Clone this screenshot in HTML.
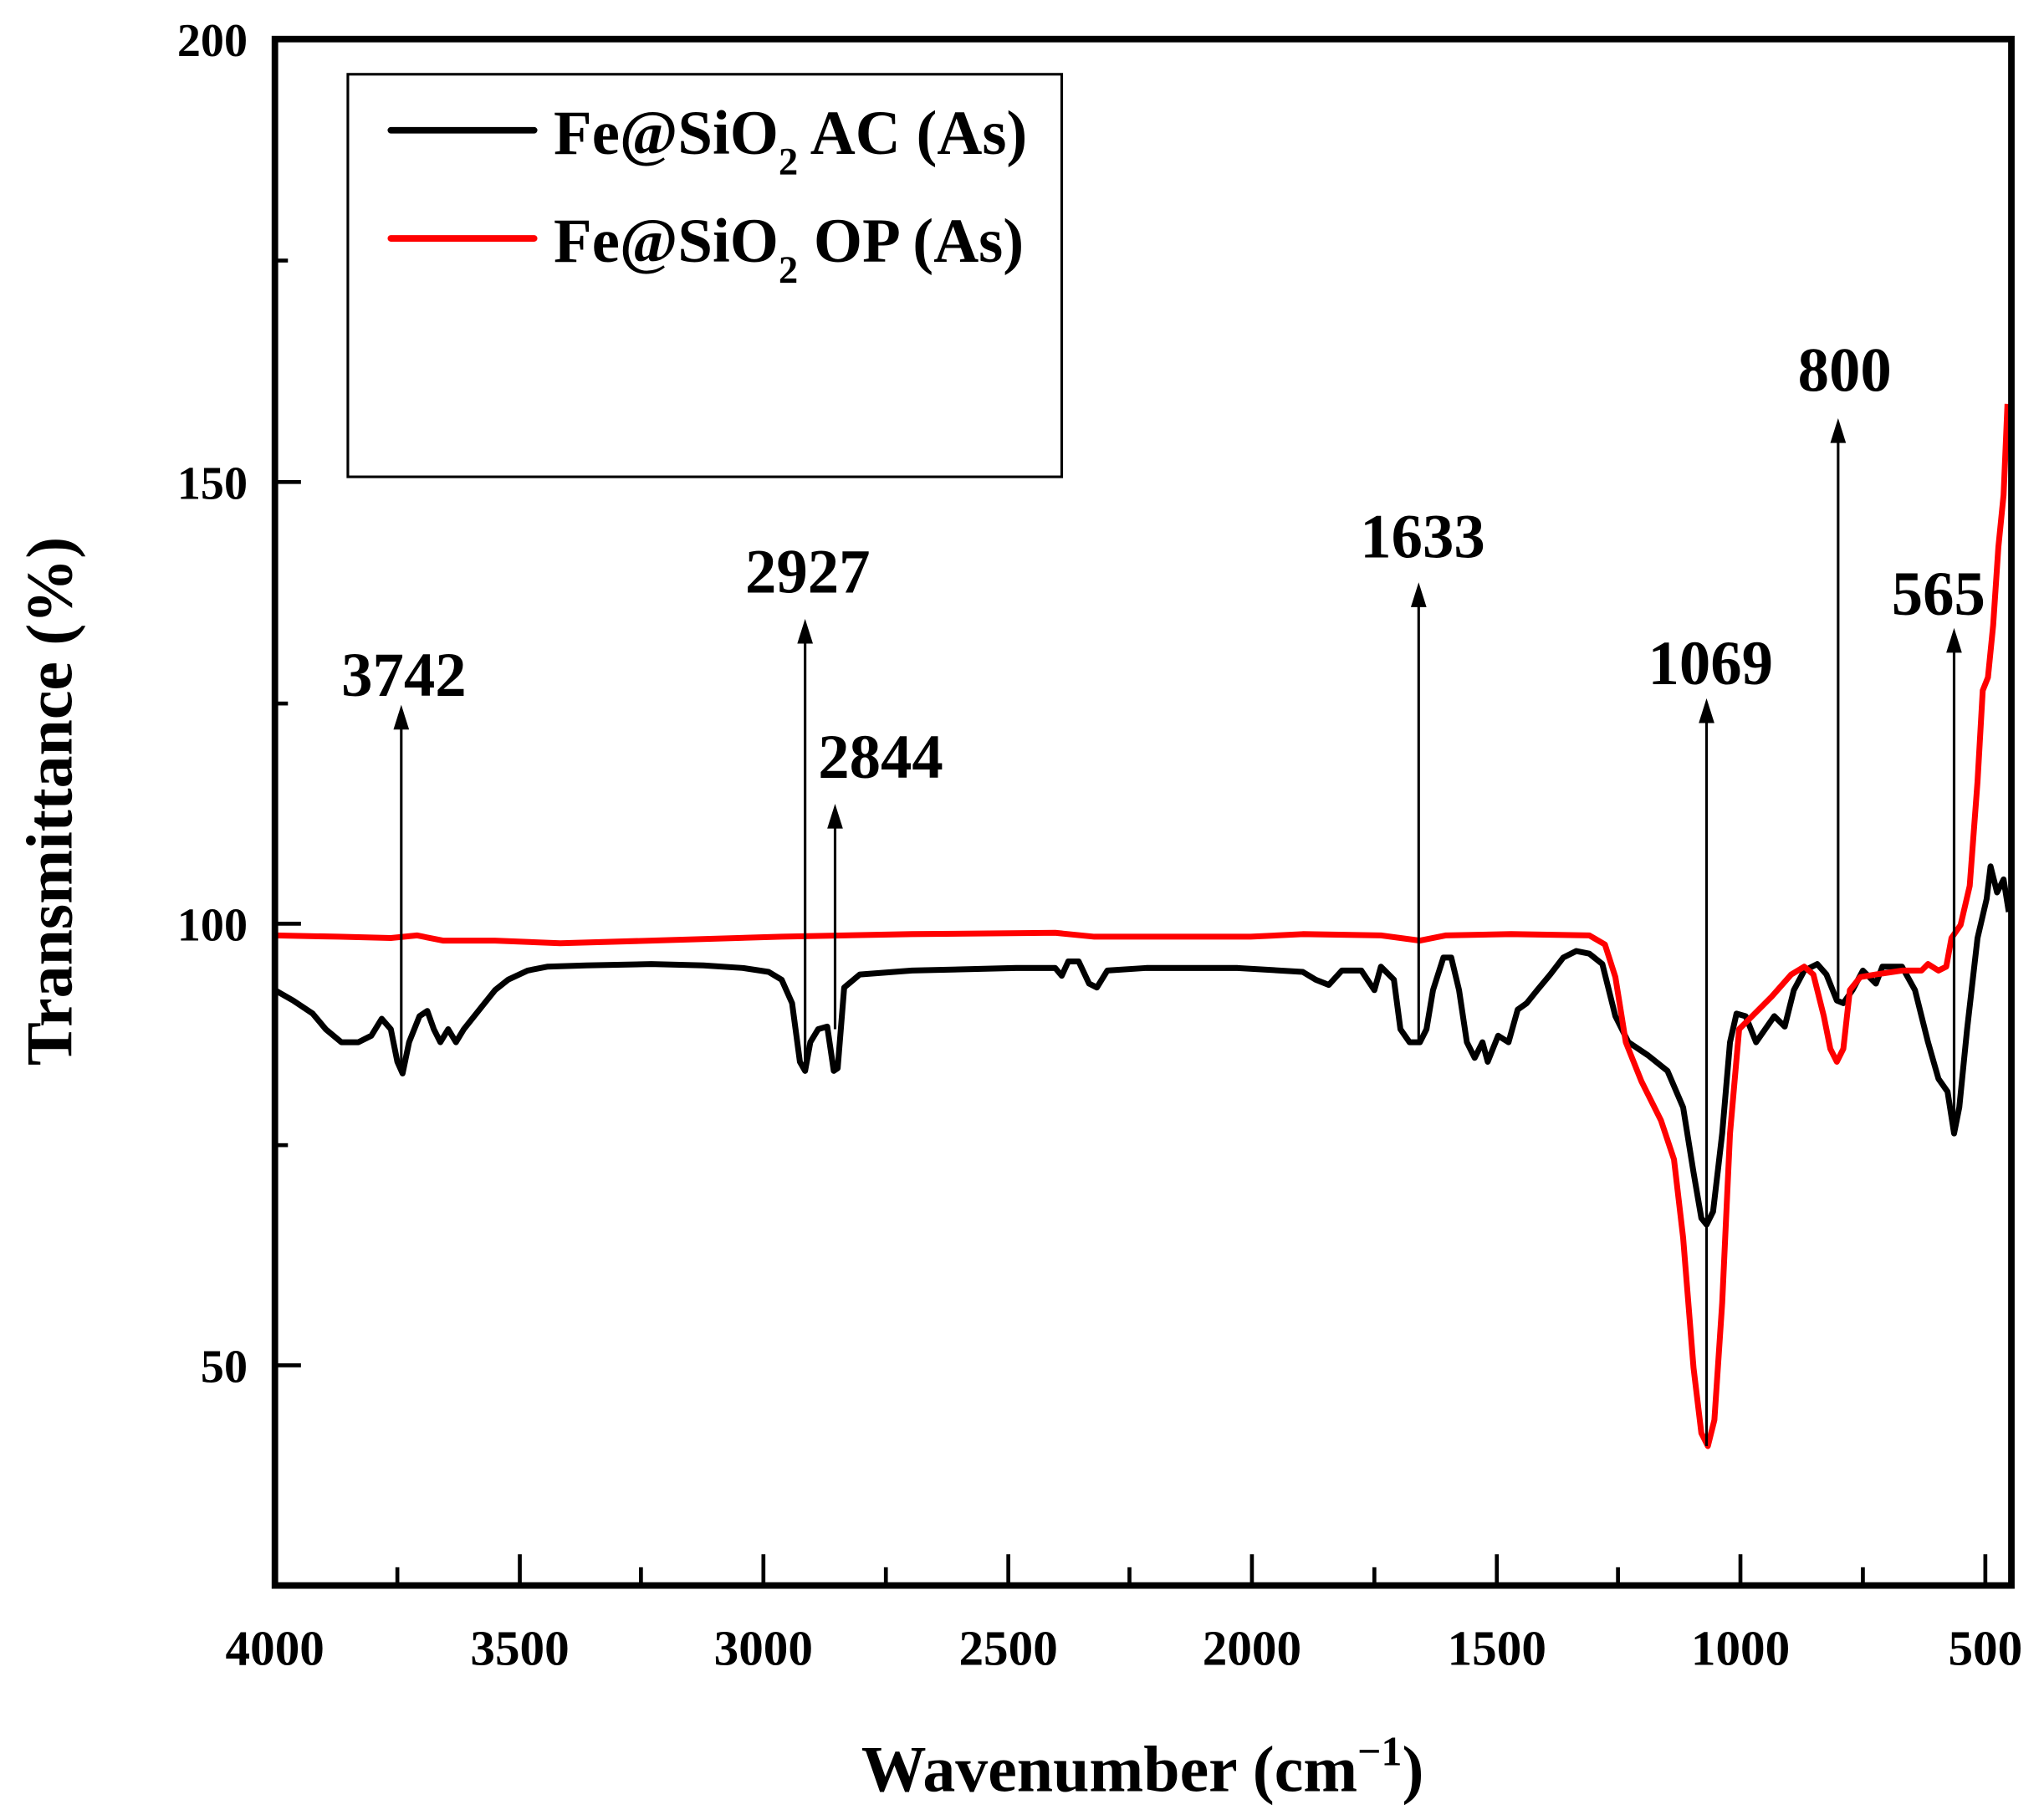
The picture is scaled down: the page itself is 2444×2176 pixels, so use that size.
<!DOCTYPE html>
<html><head><meta charset="utf-8"><style>html,body{margin:0;padding:0;background:#fff}svg{display:block}</style></head>
<body>
<svg width="2444" height="2176" viewBox="0 0 1569 1397" xmlns="http://www.w3.org/2000/svg" font-family="'Liberation Serif', serif" font-weight="bold">
<rect width="1569" height="1397" fill="#fff"/>
<polyline fill="none" stroke="#000" stroke-width="4.5" stroke-linejoin="round" points="211,760 225,768 240,778 250,790 262,800 275,800 285,795 293,782 300,790 305,815 309,824 314,800 322,780 328,776 333,790 338,800 344,790 350,800 356,790 364,780 372,770 380,760 390,752 405,745 420,742 450,741 500,740 540,741 570,743 590,746 600,752 608,770 614,815 618,822 622,800 628,790 635,788 640,822 643,820 648,758 660,748 700,745 780,743 810,743 815,749 820,738 828,738 836,755 842,758 850,745 880,743 950,743 1000,746 1010,752 1020,756 1030,745 1045,745 1055,760 1060,742 1070,752 1075,790 1082,800 1090,800 1095,790 1100,760 1108,735 1114,735 1120,760 1126,800 1132,812 1138,800 1142,815 1150,795 1158,800 1165,775 1172,770 1180,760 1190,748 1200,735 1210,730 1220,732 1230,740 1240,780 1250,800 1265,810 1280,822 1292,850 1300,900 1306,935 1310,940 1315,930 1322,870 1328,800 1333,778 1340,780 1348,800 1355,790 1362,780 1370,788 1377,760 1385,745 1395,740 1402,748 1410,768 1415,770 1422,760 1430,745 1440,755 1445,742 1460,742 1470,760 1480,800 1488,828 1495,838 1500,870 1504,850 1510,790 1518,720 1525,690 1528,665 1533,685 1538,675 1542,700"/>
<polyline fill="none" stroke="#f00" stroke-width="4.5" stroke-linejoin="round" points="211,718 260,719 300,720 320,718 340,722 380,722 430,724 500,722 600,719 700,717 810,716 840,719 900,719 960,719 1000,717 1060,718 1090,722 1110,718 1160,717 1220,718 1232,725 1240,750 1248,800 1260,830 1275,860 1285,890 1292,950 1300,1050 1306,1100 1311,1110 1316,1090 1322,1000 1328,870 1335,790 1345,780 1360,765 1375,748 1385,742 1392,748 1400,780 1405,805 1410,815 1415,805 1420,760 1428,750 1440,748 1460,745 1475,745 1480,740 1488,745 1494,742 1498,720 1505,710 1512,680 1518,600 1522,530 1526,520 1530,480 1534,420 1538,380 1541,310"/>
<rect x="211" y="30" width="1333" height="1187" fill="none" stroke="#000" stroke-width="5"/>
<g stroke="#000" stroke-width="3">
<line x1="211" y1="370" x2="231" y2="370"/><line x1="211" y1="709" x2="231" y2="709"/><line x1="211" y1="1048" x2="231" y2="1048"/>
<line x1="211" y1="200" x2="221" y2="200"/><line x1="211" y1="540" x2="221" y2="540"/><line x1="211" y1="879" x2="221" y2="879"/>
<line x1="399" y1="1217" x2="399" y2="1193"/><line x1="586" y1="1217" x2="586" y2="1193"/><line x1="774" y1="1217" x2="774" y2="1193"/><line x1="961" y1="1217" x2="961" y2="1193"/><line x1="1149" y1="1217" x2="1149" y2="1193"/><line x1="1336" y1="1217" x2="1336" y2="1193"/><line x1="1524" y1="1217" x2="1524" y2="1193"/>
<line x1="305" y1="1217" x2="305" y2="1203"/><line x1="492" y1="1217" x2="492" y2="1203"/><line x1="680" y1="1217" x2="680" y2="1203"/><line x1="867" y1="1217" x2="867" y2="1203"/><line x1="1055" y1="1217" x2="1055" y2="1203"/><line x1="1242" y1="1217" x2="1242" y2="1203"/><line x1="1430" y1="1217" x2="1430" y2="1203"/>
</g>
<g font-size="36" text-anchor="end">
<text x="190" y="43">200</text><text x="190" y="383">150</text><text x="190" y="722">100</text><text x="190" y="1061">50</text>
</g>
<g font-size="38" text-anchor="middle">
<text x="211" y="1278">4000</text><text x="399" y="1278">3500</text><text x="586" y="1278">3000</text><text x="774" y="1278">2500</text><text x="961" y="1278">2000</text><text x="1149" y="1278">1500</text><text x="1336" y="1278">1000</text><text x="1524" y="1278">500</text>
</g>
<text x="877" y="1375" font-size="50" text-anchor="middle">Wavenumber (cm<tspan dy="-20" font-size="32">−1</tspan><tspan dy="20">)</tspan></text>
<text transform="translate(55,615) rotate(-90)" font-size="50" text-anchor="middle">Transmittance (%)</text>
<rect x="267" y="57" width="548" height="309" fill="#fff" stroke="#000" stroke-width="2"/>
<line x1="300" y1="100" x2="410" y2="100" stroke="#000" stroke-width="5" stroke-linecap="round"/>
<line x1="300" y1="183" x2="410" y2="183" stroke="#f00" stroke-width="5" stroke-linecap="round"/>
<text x="425" y="118" font-size="48">Fe@SiO<tspan dy="16" font-size="30">2</tspan><tspan dy="-16"> AC (As)</tspan></text>
<text x="425" y="201" font-size="48">Fe@SiO<tspan dy="16" font-size="30">2</tspan><tspan dy="-16"> OP (As)</tspan></text>
<g stroke="#000" stroke-width="2">
<line x1="308" y1="556" x2="308" y2="823"/><line x1="618" y1="490" x2="618" y2="820"/><line x1="641" y1="632" x2="641" y2="790"/><line x1="1089" y1="462" x2="1089" y2="800"/><line x1="1310" y1="551" x2="1310" y2="1110"/><line x1="1411" y1="336" x2="1411" y2="770"/><line x1="1500" y1="497" x2="1500" y2="870"/>
</g>
<g fill="#000">
<polygon points="308,541 302,560 314,560"/><polygon points="618,475 612,494 624,494"/><polygon points="641,617 635,636 647,636"/><polygon points="1089,447 1083,466 1095,466"/><polygon points="1310,536 1304,555 1316,555"/><polygon points="1411,321 1405,340 1417,340"/><polygon points="1500,482 1494,501 1506,501"/>
</g>
<g font-size="48" text-anchor="middle">
<text x="310" y="534">3742</text><text x="620" y="455">2927</text><text x="676" y="597">2844</text><text x="1092" y="428">1633</text><text x="1313" y="525">1069</text><text x="1416" y="300">800</text><text x="1488" y="472">565</text>
</g>
</svg>
</body></html>
